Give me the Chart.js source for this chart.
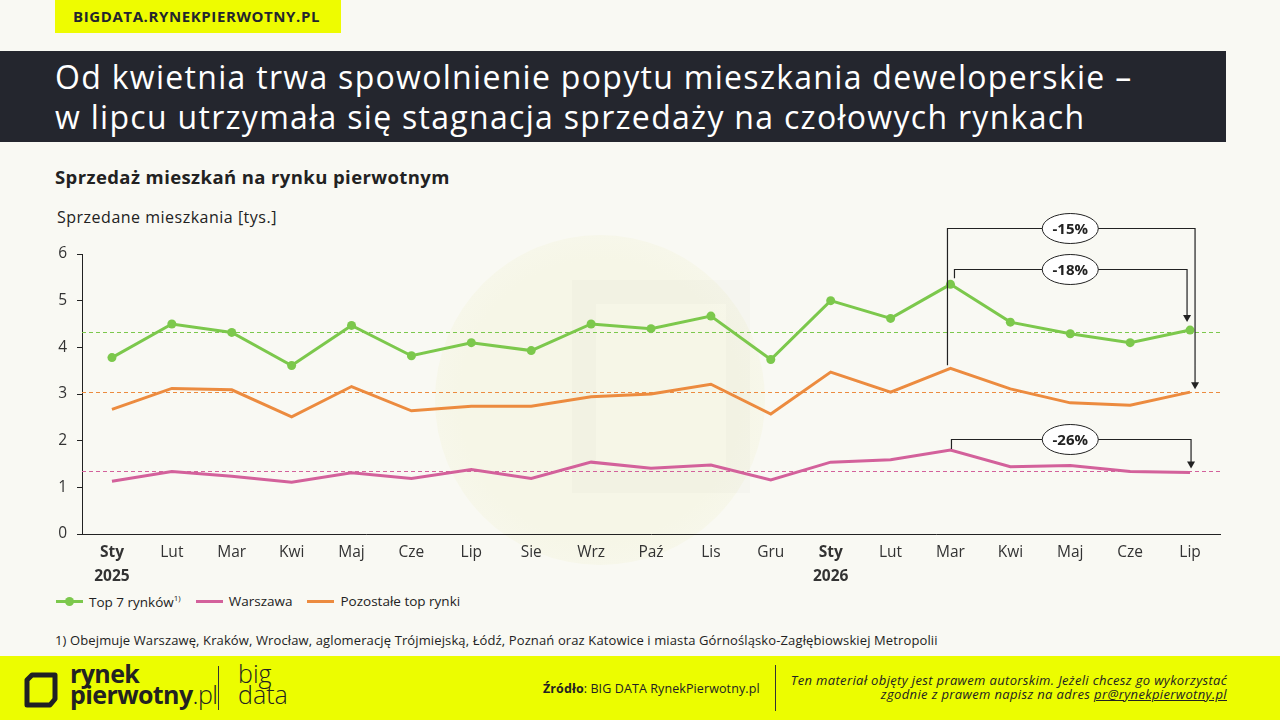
<!DOCTYPE html>
<html lang="pl">
<head>
<meta charset="utf-8">
<script src="https://cdn.jsdelivr.net/npm/chart.js@4.4.1/dist/chart.umd.min.js"></script>
<style>
  body { margin:0; width:1280px; height:720px; background:#f9f9f3; font-family:'Open Sans', sans-serif; color:#222; position:relative; overflow:hidden; }
  .tag { position:absolute; left:55px; top:0; width:286px; height:33px; background:#eefc00; font-weight:700; font-size:15px; letter-spacing:0.6px; line-height:33px; padding-left:18px; box-sizing:border-box; color:#23252d; }
  .banner { position:absolute; left:0; top:51px; width:1226px; height:91px; background:#24262e; color:#fff; font-size:32px; font-weight:500; letter-spacing:1.3px; line-height:40px; padding:6px 0 0 55px; box-sizing:border-box; white-space:nowrap; }
  .subtitle { position:absolute; left:55px; top:164px; font-size:18.5px; letter-spacing:0.4px; font-weight:700; }
  .ytitle { position:absolute; left:57px; top:206px; font-size:16px; letter-spacing:0.5px; }
  .wm { position:absolute; left:435px; top:235px; width:330px; height:330px; border-radius:50%; background:radial-gradient(circle, #f6f6e7 60%, #f8f8ee 85%, rgba(249,249,243,0) 100%); }
  .wm2 { position:absolute; left:572px; top:280px; width:130px; height:165px; border:24px solid rgba(0,0,0,0.014); }
  #wrap { position:absolute; left:40px; top:200px; width:1200px; height:390px; }
  #legend { position:absolute; left:56px; top:592px; display:flex; font-size:13.5px; }
  #legend .item { display:flex; align-items:center; margin-right:15px; }
  #legend .sw { position:relative; width:27px; height:3px; margin-right:6px; }
  #legend .dot { position:absolute; left:9px; top:-3px; width:9px; height:9px; border-radius:50%; }
  .note { position:absolute; left:55px; top:631px; font-size:13px; letter-spacing:0.12px; }
  .footer { position:absolute; left:0; top:656px; width:1280px; height:64px; background:#ecfd00; }
  .logo1 { position:absolute; left:70px; top:7px; font-size:25px; font-weight:700; line-height:21px; letter-spacing:-0.6px; }
  .logo1 span { font-weight:300; }
  .sep { position:absolute; width:1px; background:#333; }
  .logo2 { position:absolute; left:238px; top:7px; font-size:25px; font-weight:300; line-height:21px; }
  .src { position:absolute; left:543px; top:24px; font-size:12.5px; letter-spacing:0.1px; }
  .copy { position:absolute; right:53px; top:17px; font-size:13px; letter-spacing:0.35px; font-style:italic; text-align:right; line-height:14px; }
</style>
</head>
<body>
<div class="tag">BIGDATA.RYNEKPIERWOTNY.PL</div>
<div class="banner">Od kwietnia trwa spowolnienie popytu mieszkania deweloperskie –<br>w lipcu utrzymała się stagnacja sprzedaży na czołowych rynkach</div>
<div class="subtitle">Sprzedaż mieszkań na rynku pierwotnym</div>
<div class="wm"></div>
<div class="wm2"></div>
<div class="ytitle">Sprzedane mieszkania [tys.]</div>
<div id="wrap"><canvas id="myChart"></canvas></div>
<div id="legend"></div>
<div class="note">1) Obejmuje Warszawę, Kraków, Wrocław, aglomerację Trójmiejską, Łódź, Poznań oraz Katowice i miasta Górnośląsko-Zagłębiowskiej Metropolii</div>
<div class="footer">
  <svg style="position:absolute;left:24px;top:16px" width="34" height="36" viewBox="0 0 34 36">
    <path d="M3 8 L3 33 L26 33 L31 27 L31 3 L8 3 Z" fill="none" stroke="#1f2024" stroke-width="5" stroke-linejoin="round"/>
  </svg>
  <div class="logo1">rynek<br>pierwotny<span>.pl</span></div>
  <div class="sep" style="left:218px;top:10px;height:44px"></div>
  <div class="logo2">big<br>data</div>
  <div class="src"><b>Źródło</b>: BIG DATA RynekPierwotny.pl</div>
  <div class="sep" style="left:775px;top:9px;height:46px"></div>
  <div class="copy">Ten materiał objęty jest prawem autorskim. Jeżeli chcesz go wykorzystać<br>zgodnie z prawem napisz na adres <u>pr@rynekpierwotny.pl</u></div>
</div>

<script>
const ctx = document.getElementById('myChart');

// months Jan 2025 - Jul 2026
const labels = [['Sty','2025'],'Lut','Mar','Kwi','Maj','Cze','Lip','Sie','Wrz','Paź','Lis','Gru',
                ['Sty','2026'],'Lut','Mar','Kwi','Maj','Cze','Lip'];
const seriesNames = ['Top 7 rynków', 'Warszawa', 'Pozostałe top rynki'];
const seriesColors = ['#7cc84c', '#d3619b', '#ec8b3f'];
const top7      = [3.78,4.50,4.32,3.61,4.47,3.82,4.10,3.93,4.50,4.40,4.67,3.74,5.00,4.62,5.35,4.54,4.29,4.10,4.37];
const warszawa  = [1.13,1.34,1.24,1.11,1.31,1.19,1.38,1.19,1.54,1.41,1.48,1.16,1.54,1.59,1.80,1.44,1.47,1.34,1.32];
const pozostale = [2.67,3.12,3.09,2.51,3.16,2.64,2.74,2.74,2.94,3.00,3.21,2.57,3.47,3.04,3.55,3.11,2.81,2.76,3.04];
const averages  = [4.32, 1.34, 3.04];
// change Mar 2026 -> Jul 2026
const changeLabels = ['-15%', '-18%', '-26%'];
const changeSeries = [2, 0, 1];
const boldTicks = [0, 12];

// dashed average lines across the chart area
const avgLines = {
    id: 'avgLines',
    beforeDatasetsDraw(chart) {
        const {ctx, chartArea, scales: {y}} = chart;
        ctx.save();
        ctx.lineWidth = 1;
        ctx.setLineDash([4, 3]);
        averages.forEach((v, i) => {
            const py = Math.round(y.getPixelForValue(v)) + 0.5;
            ctx.strokeStyle = seriesColors[i];
            ctx.beginPath();
            ctx.moveTo(chartArea.left, py);
            ctx.lineTo(chartArea.right, py);
            ctx.stroke();
        });
        ctx.restore();
    }
};

// brackets with % change, Mar -> Lip
const brackets = {
    id: 'brackets',
    afterDatasetsDraw(chart) {
        const {ctx, scales: {x, y}} = chart;
        const from = 14, to = 18;
        const setup = [
            {top: 6.55, dx1: -3, dx2: 5, gap1: 3, gap2: 3},
            {top: 5.67, dx1: 4, dx2: -3, gap1: 6, gap2: 8},
            {top: 2.03, dx1: 1, dx2: 1, gap1: 1, gap2: 4}
        ];
        ctx.save();
        setup.forEach((s, i) => {
            const data = chart.data.datasets[changeSeries[i]].data;
            const x1 = x.getPixelForValue(from) + s.dx1;
            const x2 = x.getPixelForValue(to) + s.dx2;
            const yt = Math.round(y.getPixelForValue(s.top)) + 0.5;
            const y1 = y.getPixelForValue(data[from]) - s.gap1;
            const y2 = y.getPixelForValue(data[to]) - s.gap2;
            ctx.strokeStyle = '#222';
            ctx.fillStyle = '#222';
            ctx.lineWidth = 1.2;
            ctx.beginPath();
            ctx.moveTo(x1, y1);
            ctx.lineTo(x1, yt);
            ctx.lineTo(x2, yt);
            ctx.lineTo(x2, y2 - 6);
            ctx.stroke();
            ctx.beginPath();
            ctx.moveTo(x2 - 4, y2 - 7);
            ctx.lineTo(x2 + 4, y2 - 7);
            ctx.lineTo(x2, y2);
            ctx.closePath();
            ctx.fill();
            // label ellipse
            const cx = x.getPixelForValue(16);
            ctx.beginPath();
            ctx.ellipse(cx, yt, 28, 15, 0, 0, Math.PI * 2);
            ctx.fillStyle = '#fff';
            ctx.fill();
            ctx.lineWidth = 1;
            ctx.stroke();
            ctx.fillStyle = '#222';
            ctx.font = 'bold 15px "Open Sans"';
            ctx.textAlign = 'center';
            ctx.textBaseline = 'middle';
            ctx.fillText(changeLabels[i], cx, yt + 1);
        });
        ctx.restore();
    }
};

const series = [top7, warszawa, pozostale];

new Chart(ctx, {
    type: 'line',
    data: {
        labels: labels,
        datasets: series.map((d, i) => ({
            label: seriesNames[i],
            data: d,
            borderColor: seriesColors[i],
            backgroundColor: seriesColors[i],
            borderWidth: 3,
            tension: 0,
            pointRadius: i == 0 ? 4.5 : 0,
            pointBorderWidth: 0,
            pointBackgroundColor: seriesColors[i]
        }))
    },
    options: {
        responsive: true,
        maintainAspectRatio: false,
        animation: false,
        layout: { padding: { top: 54, right: 20, bottom: 0, left: 0 } },
        plugins: {
            legend: { display: false },
            tooltip: { enabled: false }
        },
        scales: {
            x: {
                offset: true,
                grid: { display: false, drawTicks: false },
                border: { display: true, color: '#222', width: 1 },
                ticks: {
                    color: '#333',
                    padding: 7,
                    maxRotation: 0,
                    autoSkip: false,
                    font: c => ({ family: 'Open Sans', size: 15.5, lineHeight: 1.55,
                                  weight: boldTicks.includes(c.index) ? 'bold' : 'normal' })
                },
                afterFit: s => { s.height = 56; }
            },
            y: {
                min: 0,
                max: 6,
                grid: { drawOnChartArea: false, drawTicks: true, tickLength: 5, color: '#222' },
                border: { display: true, color: '#222', width: 1 },
                ticks: { stepSize: 1, color: '#333', padding: 10, font: { family: 'Open Sans', size: 15.5 } },
                afterFit: s => { s.width = 42; }
            }
        }
    },
    plugins: [avgLines, brackets]
});

// legend built from the same series
const legend = document.getElementById('legend');
seriesNames.forEach((n, i) => {
    const item = document.createElement('div');
    item.className = 'item';
    const sw = document.createElement('div');
    sw.className = 'sw';
    sw.style.background = seriesColors[i];
    if (i == 0) {
        const dot = document.createElement('div');
        dot.className = 'dot';
        dot.style.background = seriesColors[i];
        sw.appendChild(dot);
    }
    const txt = document.createElement('span');
    txt.innerHTML = n + (i == 0 ? '<sup style="font-size:8px">1)</sup>' : '');
    item.appendChild(sw);
    item.appendChild(txt);
    legend.appendChild(item);
});
</script>
</body>
</html>
